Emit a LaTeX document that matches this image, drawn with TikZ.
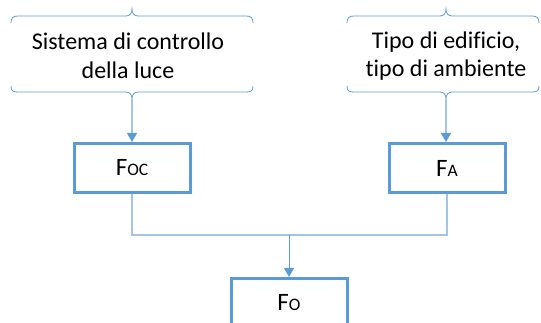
\documentclass[tikz,border=0pt]{standalone}
\usepackage{fontspec}
\setmainfont[Ligatures=CommonOff]{Carlito}
\usetikzlibrary{arrows.meta}
\definecolor{midblue}{HTML}{5B9BD5}
\definecolor{lightblue}{HTML}{A2C4E6}
\newcommand{\sub}[1]{{\fontsize{17.5}{17.5}\selectfont #1}}
\newcommand{\bracepair}[3]{%
  \draw[bracestyle] (#1,23) .. controls (#1,18) and (#1+2,16) .. (#1+7,16) -- (#3-6,16)
    .. controls (#3-2,16) and (#3,13) .. (#3,9)
    .. controls (#3,13) and (#3+2,16) .. (#3+6,16) -- (#2-7,16)
    .. controls (#2-2,16) and (#2,18) .. (#2,23);
  \draw[bracestyle] (#1,86) .. controls (#1,91) and (#1+2,92) .. (#1+7,92) -- (#3-6,92)
    .. controls (#3-2,92) and (#3,95) .. (#3,99)
    .. controls (#3,95) and (#3+2,92) .. (#3+6,92) -- (#2-7,92)
    .. controls (#2-2,92) and (#2,91) .. (#2,86);
}
\begin{document}
\begin{tikzpicture}[x=1pt,y=-1pt,
  bracestyle/.style={draw=midblue,line width=0.8pt},
  label/.style={align=center,font=\fontsize{24}{28.5}\selectfont,text=black,inner sep=0pt},
  fbox/.style={draw=midblue,line width=3pt,fill=white,minimum width=116pt,minimum height=49pt,inner sep=0pt,font=\fontsize{25}{28}\selectfont},
  conn/.style={draw=lightblue,line width=1.3pt},
  feed/.style={draw=lightblue,line width=1.3pt,-{Triangle[length=9pt,width=10pt,color=midblue]}},
  arr/.style={draw=midblue,line width=1pt,-{Triangle[length=9pt,width=10pt]}}
]
\useasboundingbox (0,0) rectangle (541,323);
\bracepair{11}{253}{132}
\bracepair{347}{539}{446}
\coordinate (b1) at (132,99);
\coordinate (b2) at (446,99);
\node[label] (t1) at (128,56) {Sistema di controllo\\della luce};
\node[label] (t2) at (446,56) {Tipo di edificio,\\tipo di ambiente};
\node[fbox] (foc) at (132,168) {F\sub{OC}};
\node[fbox] (fa) at (447,168) {F\sub{A}};
\node[fbox] (fo) at (289,303) {F\sub{O}};
\coordinate (j) at (289,235);
\draw[feed] (b1) -- (foc.north);
\draw[feed] (b2) -- (b2 |- fa.north);
\draw[conn] (foc.south) |- (j) -| (fa.south);
\draw[arr] (j) -- (fo.north);
\end{tikzpicture}
\end{document}
